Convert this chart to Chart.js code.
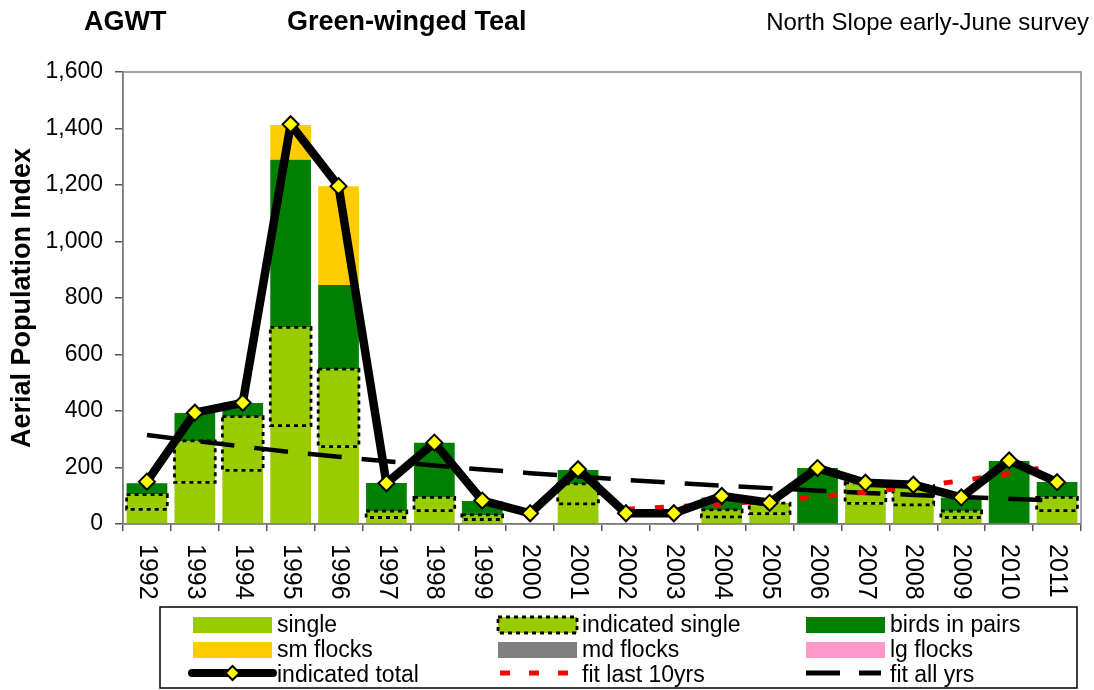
<!DOCTYPE html>
<html>
<head>
<meta charset="utf-8">
<script src="https://cdn.jsdelivr.net/npm/chart.js@4.4.0/dist/chart.umd.min.js"></script>
<style>
  html, body { margin: 0; padding: 0; background: #fff; }
  #wrap { width: 1094px; height: 690px; }
</style>
</head>
<body>
<div id="wrap"><canvas id="chart" width="1094" height="690"></canvas></div>
<script>
// values
const years = ['1992', '1993', '1994', '1995', '1996', '1997', '1998', '1999', '2000', '2001',
               '2002', '2003', '2004', '2005', '2006', '2007', '2008', '2009', '2010', '2011'];
const single          = [52, 147, 190, 348, 274, 23, 47, 16, 0, 71, 0, 0, 25, 37, 0, 73, 68, 23, 0, 47];
const indicatedSingle = [52, 147, 190, 348, 274, 23, 47, 16, 0, 71, 0, 0, 25, 37, 0, 73, 68, 23, 0, 47];
const pairs           = [40, 99, 48, 593, 298, 99, 194, 49, 0, 49, 0, 0, 44, 0, 198, 0, 0, 48, 223, 55];
const smFlocks        = [0, 0, 0, 123, 350, 0, 0, 0, 0, 0, 0, 0, 0, 0, 0, 0, 0, 0, 0, 0];
const mdFlocks        = [0, 0, 0, 0, 0, 0, 0, 0, 0, 0, 0, 0, 0, 0, 0, 0, 0, 0, 0, 0];
const lgFlocks        = [0, 0, 0, 0, 0, 0, 0, 0, 0, 0, 0, 0, 0, 0, 0, 0, 0, 0, 0, 0];
const indicatedTotal  = [150, 394, 429, 1415, 1196, 144, 288, 83, 38, 194, 38, 38, 99, 75, 198, 146, 139, 94, 225, 148];
const fitLast10       = [null, null, null, null, null, null, null, null, null, null,
                         52, 61, 71, 83, 96, 112, 131, 153, 178, 208];
const fitAll          = [315, 294, 274, 255, 238, 222, 207, 193, 180, 168, 156, 146, 136, 127, 118, 110, 103, 96, 89, 83];
const yTicks = [0, 200, 400, 600, 800, 1000, 1200, 1400, 1600];

const colors = {
    single: '#99CC00',
    pairs: '#008000',
    sm: '#FFCC00',
    md: '#808080',
    lg: '#FF99CC',
    marker: '#FFFF00',
    red: '#FF0000',
    axis: '#555555'
};

const FONT = "'Liberation Sans', Arial, sans-serif";
Chart.defaults.font.family = FONT;
Chart.defaults.color = '#000';

function barSet(label, data, color, order) {
    return {
        type: 'bar', label: label, data: data, backgroundColor: color,
        borderWidth: 0, stack: 'bars', order: order,
        categoryPercentage: 1.0, barPercentage: 0.85
    };
}

// dotted outline round the "indicated single" segments, after all bars are drawn
const dottedBoxes = {
    id: 'dottedBoxes',
    afterDatasetDraw(chart, args) {
        if (chart.data.datasets[args.index].label !== 'single') return;
        const meta = chart.getDatasetMeta(1);
        const ctx = chart.ctx;
        ctx.save();
        ctx.strokeStyle = '#000';
        ctx.lineWidth = 2.8;
        ctx.setLineDash([4, 4]);
        meta.data.forEach((bar, i) => {
            if (!indicatedSingle[i]) return;
            const p = bar.getProps(['x', 'y', 'base', 'width'], true);
            ctx.strokeRect(p.x - p.width / 2, p.y, p.width, p.base - p.y);
        });
        ctx.restore();
    }
};

// plot frame, titles, rotated year labels and the boxed legend
const decor = {
    id: 'decor',
    beforeDatasetsDraw(chart) {
        const a = chart.chartArea, ctx = chart.ctx;
        ctx.save();
        ctx.strokeStyle = '#888';
        ctx.lineWidth = 1.5;
        ctx.strokeRect(a.left, a.top, a.right - a.left, a.bottom - a.top);
        ctx.restore();
    },
    afterDraw(chart) {
        const ctx = chart.ctx;
        ctx.save();
        ctx.fillStyle = '#000';
        ctx.textBaseline = 'middle';
        ctx.font = 'bold 27px ' + FONT;
        ctx.textAlign = 'left';
        ctx.fillText('AGWT', 84, 23);
        ctx.fillText('Green-winged Teal', 287, 23);
        ctx.font = '24px ' + FONT;
        ctx.textAlign = 'right';
        ctx.fillText('North Slope early-June survey', 1089, 23);

        // year labels, rotated clockwise
        const xs = chart.scales.x;
        ctx.font = '25px ' + FONT;
        ctx.textAlign = 'left';
        years.forEach((yr, i) => {
            ctx.save();
            ctx.translate(xs.getPixelForTick(i), 544);
            ctx.rotate(Math.PI / 2);
            ctx.fillText(yr, 0, 0);
            ctx.restore();
        });

        // legend
        ctx.strokeStyle = '#000';
        ctx.lineWidth = 1.5;
        ctx.strokeRect(160, 607, 917, 81);
        const cols = [193, 498, 806];
        const rows = [625, 650, 675];
        const sw = 79;
        const rect = (x, y, c) => { ctx.fillStyle = c; ctx.fillRect(x, y - 8, sw, 16); };
        rect(cols[0], rows[0], colors.single);
        rect(cols[1], rows[0], colors.single);
        ctx.save();
        ctx.strokeStyle = '#000'; ctx.lineWidth = 2.8; ctx.setLineDash([4, 4]);
        ctx.strokeRect(cols[1], rows[0] - 8, sw, 16);
        ctx.restore();
        rect(cols[2], rows[0], colors.pairs);
        rect(cols[0], rows[1], colors.sm);
        rect(cols[1], rows[1], colors.md);
        rect(cols[2], rows[1], colors.lg);
        // indicated total sample
        ctx.save();
        ctx.strokeStyle = '#000'; ctx.lineWidth = 8; ctx.lineCap = 'round';
        ctx.beginPath(); ctx.moveTo(cols[0] - 1, rows[2] - 2); ctx.lineTo(cols[0] + sw + 1, rows[2] - 2); ctx.stroke();
        const cx = cols[0] + sw / 2, cy = rows[2] - 2;
        ctx.fillStyle = colors.marker; ctx.lineWidth = 2; ctx.lineCap = 'butt';
        ctx.beginPath(); ctx.moveTo(cx, cy - 7); ctx.lineTo(cx + 7, cy); ctx.lineTo(cx, cy + 7); ctx.lineTo(cx - 7, cy); ctx.closePath();
        ctx.fill(); ctx.stroke();
        // fit last 10yrs sample
        ctx.strokeStyle = colors.red; ctx.lineWidth = 5; ctx.setLineDash([10, 19]);
        ctx.beginPath(); ctx.moveTo(cols[1] + 2, rows[2] - 2); ctx.lineTo(cols[1] + sw, rows[2] - 2); ctx.stroke();
        // fit all yrs sample
        ctx.strokeStyle = '#000'; ctx.lineWidth = 5; ctx.setLineDash([34, 19]);
        ctx.beginPath(); ctx.moveTo(cols[2], rows[2] - 2); ctx.lineTo(cols[2] + 75, rows[2] - 2); ctx.stroke();
        ctx.restore();

        ctx.fillStyle = '#000';
        ctx.font = '23px ' + FONT;
        ctx.textAlign = 'left';
        const labels = [
            ['single', 'indicated single', 'birds in pairs'],
            ['sm flocks', 'md flocks', 'lg flocks'],
            ['indicated total', 'fit last 10yrs', 'fit all yrs']
        ];
        labels.forEach((row, r) => row.forEach((t, c) => ctx.fillText(t, cols[c] + sw + 5, rows[r] + 1)));
        ctx.restore();
    }
};

new Chart(document.getElementById('chart'), {
    data: {
        labels: years,
        datasets: [
            barSet('single', single, colors.single, 10),
            barSet('indicated single', indicatedSingle, colors.single, 11),
            barSet('birds in pairs', pairs, colors.pairs, 12),
            barSet('sm flocks', smFlocks, colors.sm, 13),
            barSet('md flocks', mdFlocks, colors.md, 14),
            barSet('lg flocks', lgFlocks, colors.lg, 15),
            {
                type: 'line', label: 'fit all yrs', data: fitAll, stack: 'fitall', order: 3,
                borderColor: '#000', borderWidth: 4.5, borderDash: [34, 20],
                pointRadius: 0, fill: false, tension: 0
            },
            {
                type: 'line', label: 'fit last 10yrs', data: fitLast10, stack: 'fit10', order: 2,
                borderColor: colors.red, borderWidth: 5, borderDash: [9, 20],
                pointRadius: 0, fill: false, tension: 0
            },
            {
                type: 'line', label: 'indicated total', data: indicatedTotal, stack: 'total', order: 1,
                borderColor: '#000', borderWidth: 8.5, borderJoinStyle: 'round',
                pointStyle: 'rectRot', pointRadius: 8, pointBorderWidth: 2,
                pointBackgroundColor: colors.marker, pointBorderColor: '#000',
                fill: false, tension: 0
            }
        ]
    },
    options: {
        responsive: false,
        animation: false,
        layout: { padding: { left: 0, top: 72, right: 13, bottom: 86 } },
        plugins: { legend: { display: false }, tooltip: { enabled: false } },
        scales: {
            x: {
                stacked: true,
                offset: true,
                grid: { offset: true, drawOnChartArea: false, tickLength: 7, color: colors.axis, lineWidth: 1.5 },
                border: { color: colors.axis, width: 1.5 },
                ticks: { display: false },
                afterFit(scale) { scale.height = 80; }
            },
            y: {
                stacked: true,
                min: 0,
                max: 1600,
                afterBuildTicks(scale) { scale.ticks = yTicks.map(v => ({ value: v })); },
                grid: { drawOnChartArea: false, tickLength: 8, color: colors.axis, lineWidth: 1.5 },
                border: { color: colors.axis, width: 1.5 },
                ticks: {
                    padding: 12,
                    font: { size: 23 },
                    color: '#000',
                    callback: v => v.toLocaleString('en-US')
                },
                title: {
                    display: true,
                    text: 'Aerial Population Index',
                    font: { size: 27, weight: 'bold' },
                    color: '#000',
                    padding: { top: 6, bottom: 0 }
                },
                afterFit(scale) { scale.width = 123; }
            }
        }
    },
    plugins: [dottedBoxes, decor]
});
</script>
</body>
</html>
